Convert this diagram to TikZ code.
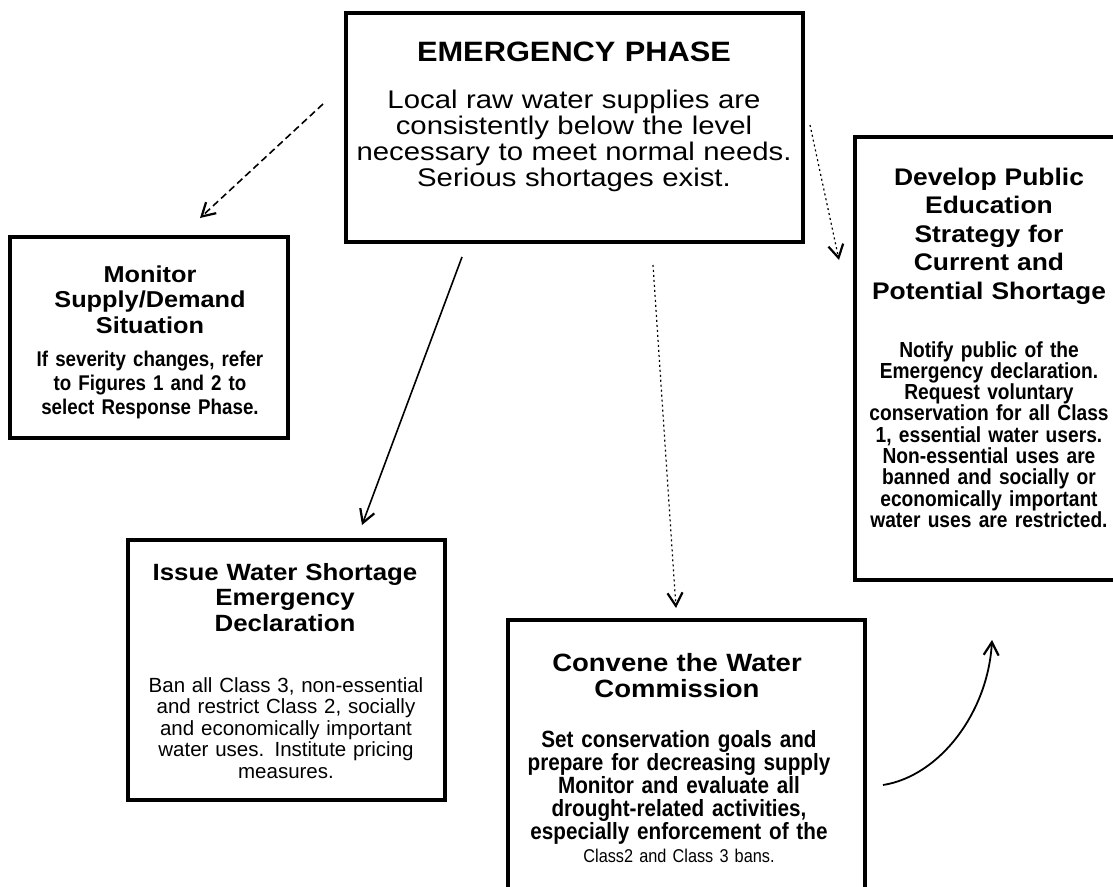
\documentclass[tikz,border=0pt]{standalone}
\usepackage{fontspec}
\setmainfont{Liberation Sans}
\newfontfamily\fw{Liberation Sans}[FakeStretch=1.1,WordSpace=2]
\newfontfamily\fwb{Liberation Sans}[FakeStretch=1.15,WordSpace=1.6]
\newfontfamily\fn{Liberation Sans}[FakeStretch=0.88,WordSpace=0.8]
\usetikzlibrary{arrows.meta}
\lineskiplimit=-100pt
\newcommand\fsz[2]{\fontsize{#1pt}{#2pt}\selectfont}
\begin{document}
\begin{tikzpicture}[x=1pt,y=-1pt,
  box/.style={draw,line width=4.5pt,inner sep=0pt,outer sep=0pt},
  txt/.style={inner sep=0pt,anchor=base,align=center,text width=520pt},
  arr/.style={line width=1.6pt,-{Straight Barb[length=13pt,width=15pt,line width=2.2pt]}},
]
\useasboundingbox[fill=white] (0,0) rectangle (1113,886);

% boxes
\node[box,minimum width=457pt,minimum height=229pt] (top) at (574.5,127.5) {};
\node[box,minimum width=278pt,minimum height=201pt] (mon) at (149,337.5) {};
\node[box,minimum width=267pt,minimum height=443pt] (dev) at (988.5,358.5) {};
\node[box,minimum width=317pt,minimum height=260pt] (iss) at (286.5,670) {};
\node[box,minimum width=357pt,minimum height=280pt] (conv) at (686.5,760) {};

% texts
\node[txt,font={\fw\bfseries\fsz{28}{30}}] (topT) at (574,61) {EMERGENCY PHASE};
\node[txt,font={\fwb\fsz{25.5}{26}}] (topB) at (574,108) {Local raw water supplies are\\consistently below the level\\necessary to meet normal needs.\\Serious shortages exist.};

\node[txt,font={\fw\bfseries\fsz{23}{25.5}}] (monT) at (150,282) {Monitor\\Supply/Demand\\Situation};
\node[txt,font={\fn\bfseries\fsz{21.3}{24}}] (monB) at (150,366) {If severity changes, refer\\to Figures 1 and 2 to\\select Response Phase.};

\node[txt,font={\fw\bfseries\fsz{24}{28.5}}] (devT) at (989,185) {Develop Public\\Education\\Strategy for\\Current and\\Potential Shortage};
\node[txt,font={\fn\bfseries\fsz{21.8}{21.3}}] (devB) at (989,357) {Notify public of the\\Emergency declaration.\\Request voluntary\\conservation for all Class\\1, essential water users.\\Non-essential uses are\\banned and socially or\\economically important\\water uses are restricted.};

\node[txt,font={\fw\bfseries\fsz{23.5}{25.5}}] (issT) at (285,580) {Issue Water Shortage\\Emergency\\Declaration};
\node[txt,font={\fsz{20.5}{21.5}}] (issB) at (286,692) {Ban all Class 3, non-essential\\and restrict Class 2, socially\\and economically important\\water uses. Institute pricing\\measures.};

\node[txt,font={\fw\bfseries\fsz{25}{26}}] (convT) at (677,671) {Convene the Water\\Commission};
\node[txt,font={\fn\bfseries\fsz{23.5}{23.2}}] (convB) at (679,747) {Set conservation goals and\\prepare for decreasing supply\\Monitor and evaluate all\\drought-related activities,\\especially enforcement of the};
\node[txt,font={\fn\fsz{18.5}{20}}] (convL) at (679,862) {Class2 and Class 3 bans.};

% arrow end points
\coordinate (a1s) at (323,104);
\coordinate (a1e) at (200,218);
\coordinate (a2s) at (462,257);
\coordinate (a2e) at (362,525);
\coordinate (a3s) at (653,265);
\coordinate (a3e) at (676,608);
\coordinate (a4s) at (810,125);
\coordinate (a4e) at (839,260);
\coordinate (a5s) at (883,785);
\coordinate (a5e) at (992,640);

\draw[arr,dash pattern=on 7pt off 4pt] (a1s) -- (a1e);
\draw[arr] (a2s) -- (a2e);
\draw[arr,line width=1.2pt,dash pattern=on 2pt off 3pt] (a3s) -- (a3e);
\draw[arr,line width=1.2pt,dash pattern=on 2pt off 3pt] (a4s) -- (a4e);
\draw[arr,line width=1.8pt] (a5s) .. controls (940,776) and (988,712) .. (a5e);
\end{tikzpicture}
\end{document}
